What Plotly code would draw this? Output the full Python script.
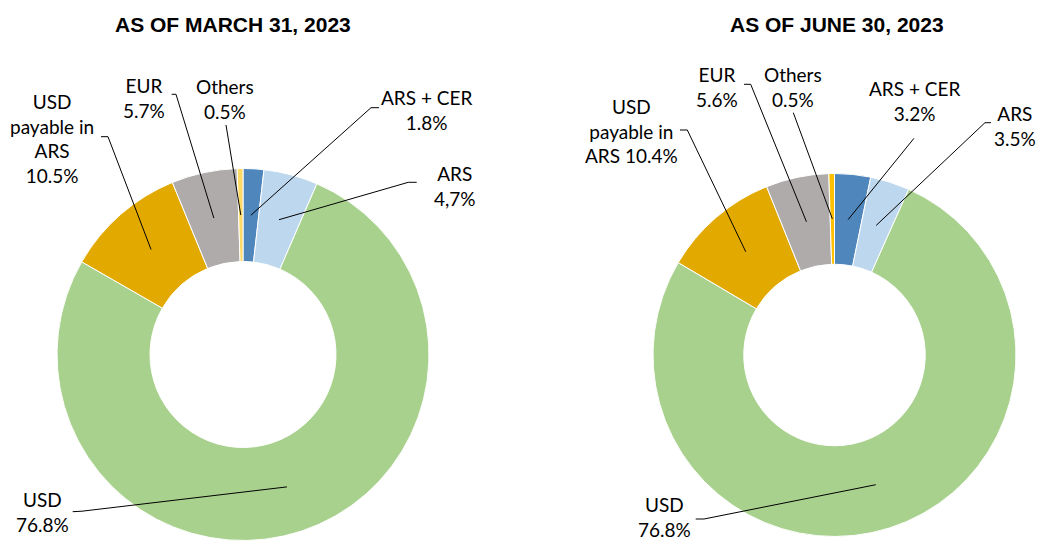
import math

import plotly.graph_objects as go

# the page body has an 8px margin, so the figure is drawn 8px smaller and
# every pixel position below is measured in window coordinates, then shifted
PAGE_MARGIN = 8
W, H = 1048 - PAGE_MARGIN, 542 - PAGE_MARGIN

categories = ['ARS + CER', 'ARS', 'USD', 'USD payable in ARS', 'EUR', 'Others']
march_2023 = [1.8, 4.7, 76.8, 10.5, 5.7, 0.5]
june_2023 = [3.2, 3.5, 76.8, 10.4, 5.6, 0.5]

colors_march = ['#4F87BC', '#BDD7EE', '#A9D18E', '#E2AA00', '#AFABAB', '#FFD966']
colors_june = ['#4F87BC', '#BDD7EE', '#A9D18E', '#E2AA00', '#AFABAB', '#FFC000']

titles = ['AS OF MARCH 31, 2023', 'AS OF JUNE 30, 2023']

HOLE = 0.5
LABEL_FONT = dict(family='Lato, Calibri, Arial', size=19, color='black')


def px2paper(x, y):
    return (x - PAGE_MARGIN) / W, 1 - (y - PAGE_MARGIN) / H


# window-pixel layout of each donut: centre and outer radius
charts = [
    dict(values=march_2023, colors=colors_march, title=titles[0],
         cx=243, cy=354.5, r=186, title_x=233, decimal='comma_ars',
         labels=[
             dict(fmt='ARS + CER<br>{}', pos=(426, 110.5), lead=[(379, 107.7), (371, 107.7)]),
             dict(fmt='ARS<br>{}', pos=(455, 185.5), lead=[(416.7, 182.3), (408.3, 182.3)]),
             dict(fmt='USD<br>{}', pos=(42, 511.5), lead=[(72.7, 511.7), (82, 511.2)]),
             dict(fmt='USD<br>payable in<br>ARS<br>{}', pos=(52, 138), lead=[(101, 136.7), (108, 136.7)]),
             dict(fmt='EUR<br>{}', pos=(144, 97.5), lead=[(171.7, 94.3), (176, 94.3)]),
             dict(fmt='Others<br>{}', pos=(225, 99.3), lead=[(226, 125)]),
         ]),
    dict(values=june_2023, colors=colors_june, title=titles[1],
         cx=834.5, cy=355, r=181.5, title_x=837, decimal='dot',
         labels=[
             dict(fmt='ARS + CER<br>{}', pos=(914.7, 100.8), lead=[(914, 138.3)]),
             dict(fmt='ARS<br>{}', pos=(1015, 125.8), lead=[(991, 122.7), (985, 122.7)]),
             dict(fmt='USD<br>{}', pos=(664, 517), lead=[(695.7, 519), (704, 519)]),
             dict(fmt='USD<br>payable in<br>ARS {}', pos=(631, 131), lead=[(680, 130), (687.3, 130)]),
             dict(fmt='EUR<br>{}', pos=(717.3, 87.5), lead=[(744, 84.3), (750.7, 84.3)]),
             dict(fmt='Others<br>{}', pos=(793, 86.7), lead=[(793.3, 112.7)]),
         ]),
]

fig = go.Figure()
annotations = []
shapes = []

for ch in charts:
    cx, cy, r = ch['cx'], ch['cy'], ch['r']
    x0, y1 = px2paper(cx - r, cy - r)
    x1, y0 = px2paper(cx + r, cy + r)
    fig.add_trace(go.Pie(
        labels=categories,
        values=ch['values'],
        hole=HOLE,
        sort=False,
        direction='clockwise',
        rotation=0,
        textinfo='none',
        marker=dict(colors=ch['colors'], line=dict(color='white', width=1)),
        domain=dict(x=[x0, x1], y=[y0, y1]),
        showlegend=False,
    ))

    tx, ty = px2paper(ch['title_x'], 25)
    annotations.append(dict(
        text='<b>' + ch['title'] + '</b>', x=tx, y=ty, xref='paper', yref='paper',
        xanchor='center', yanchor='middle', showarrow=False,
        font=dict(family='Liberation Sans, Arial', size=21, color='black')))

    total = sum(ch['values'])
    rm = r * (1 + HOLE) / 2
    cum = 0
    for i, (v, lab) in enumerate(zip(ch['values'], ch['labels'])):
        frac = (cum + v / 2) / total
        cum += v
        ang = 2 * math.pi * frac
        tip = (cx + rm * math.sin(ang), cy - rm * math.cos(ang))

        val = f'{v:.1f}%'
        if ch['decimal'] == 'comma_ars' and categories[i] == 'ARS':
            val = val.replace('.', ',')
        lx, ly = px2paper(*lab['pos'])
        annotations.append(dict(
            text=lab['fmt'].format(val), x=lx, y=ly, xref='paper', yref='paper',
            xanchor='center', yanchor='middle', showarrow=False, align='center',
            font=LABEL_FONT))

        pts = lab['lead'] + [tip]
        path = ''
        for k, (px_, py_) in enumerate(pts):
            qx, qy = px2paper(px_, py_)
            path += ('M' if k == 0 else ' L') + f' {qx:.5f} {qy:.5f}'
        shapes.append(dict(type='path', path=path, xref='paper', yref='paper',
                           line=dict(color='black', width=1)))

fig.update_layout(
    width=W,
    height=H,
    margin=dict(l=0, r=0, t=0, b=0),
    paper_bgcolor='white',
    plot_bgcolor='white',
    annotations=annotations,
    shapes=shapes,
)

fig.write_html('out.html')
